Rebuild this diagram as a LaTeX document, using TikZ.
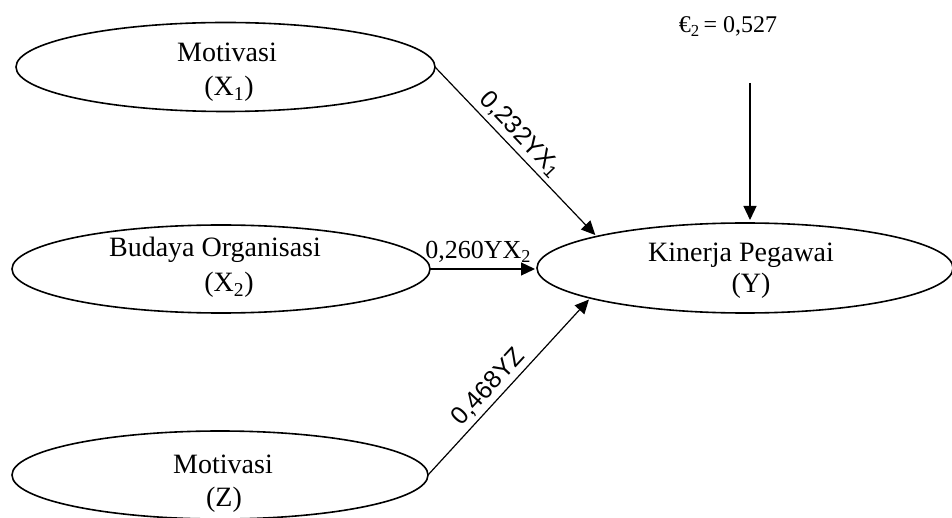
\documentclass[tikz,border=0pt]{standalone}
\usepackage{fontspec}
\setmainfont{Liberation Serif}
\newfontfamily\arialf{Liberation Sans}
\usetikzlibrary{arrows.meta,shapes.geometric}
\begin{document}
\begin{tikzpicture}[x=1pt,y=-1pt,
  ell/.style={draw, ellipse, line width=1.6pt, inner sep=0pt, outer sep=0pt},
  lbl/.style={font=\fontsize{28}{32}\selectfont, inner sep=0pt, anchor=base},
  arr/.style={line width=1.2pt, -{Triangle[length=14pt,width=13pt]}},
  elbl/.style={font=\fontsize{26}{30}\selectfont, inner sep=1pt},
  slbl/.style={font=\arialf\fontsize{25}{30}\selectfont, inner sep=1pt, sloped, above=3pt},
]
\useasboundingbox (0,0) rectangle (952,518);
% ellipses
\node[ell, minimum width=419pt, minimum height=89pt] (x1) at (225.5,67) {};
\node[ell, minimum width=418pt, minimum height=88pt] (x2) at (221,269) {};
\node[ell, minimum width=416pt, minimum height=88pt] (z) at (220,475) {};
\node[ell, minimum width=416pt, minimum height=90pt] (y) at (745,268) {};
% texts
\node[lbl] (x1a) at (227,62) {Motivasi};
\node[lbl] (x1b) at (229,96) {(X\textsubscript{1})};
\node[lbl] (x2a) at (215,257) {Budaya Organisasi};
\node[lbl] (x2b) at (229,292) {(X\textsubscript{2})};
\node[lbl] (ya) at (741,262) {Kinerja Pegawai};
\node[lbl] (yb) at (751,293) {(Y)};
\node[lbl] (za) at (223,473) {Motivasi};
\node[lbl] (zb) at (224,506) {(Z)};
% error term
\node[font=\fontsize{24}{28}\selectfont, anchor=base, inner sep=0pt] (eps) at (728,33) {€\textsubscript{2}\,= 0,527};
\coordinate (etop) at (750,83);
% connectors
\draw[arr, shorten >=2pt] (x1.east) -- (y.168.4) node[slbl, pos=.46] {0,232YX\textsubscript{1}};
\draw[arr, shorten >=2pt] (x2.east) -- (x2.east -| y.west) node[elbl, above=5pt, pos=.45] {0,260YX\textsubscript{2}};
\draw[arr, shorten >=2pt] (z.east) -- (y.191.5) node[slbl, pos=.44] {0,468YZ};
\draw[arr, shorten >=3pt] (etop) -- (etop |- y.north);
\end{tikzpicture}
\end{document}
